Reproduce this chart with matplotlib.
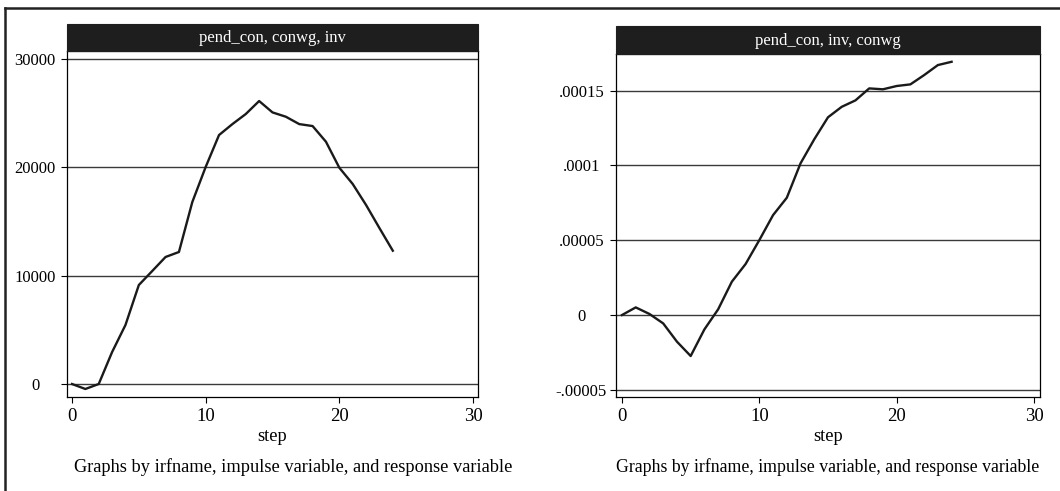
import matplotlib
matplotlib.use("Agg")
import matplotlib.pyplot as plt
from matplotlib.lines import Line2D
from matplotlib.patches import Rectangle

plt.rcParams['font.family'] = ['Liberation Serif', 'DejaVu Serif']

steps = list(range(25))
left_title = "pend_con, conwg, inv"
left_vals = [0, -460, 0, 2950, 5450, 9140, 10430, 11730, 12190, 16800, 20040,
             22990, 24000, 24930, 26130, 25080, 24680, 24000, 23820, 22370,
             19970, 18470, 16530, 14400, 12310]
left_yticks = [0, 10000, 20000, 30000]
left_yticklabels = ["0", "10000", "20000", "30000"]

right_title = "pend_con, inv, conwg"
right_vals = [0, 5.1e-6, 0.7e-6, -5.6e-6, -1.78e-5, -2.74e-5, -9.6e-6, 3.8e-6,
              2.23e-5, 3.41e-5, 5.01e-5, 6.68e-5, 7.84e-5, 1.014e-4, 1.175e-4,
              1.322e-4, 1.392e-4, 1.435e-4, 1.515e-4, 1.509e-4, 1.531e-4,
              1.542e-4, 1.604e-4, 1.671e-4, 1.693e-4]
right_yticks = [-0.00005, 0, 0.00005, 0.0001, 0.00015]
right_yticklabels = ["-.00005", "0", ".00005", ".0001", ".00015"]

xticks = [0, 10, 20, 30]
xlabel = "step"
note = "Graphs by irfname, impulse variable, and response variable"

W, H = 1060, 491
fig = plt.figure(figsize=(W / 100, H / 100), dpi=100)


def fx(px):
    return px / W


def fy(py):
    return 1 - py / H


def panel(x0, x1, ybar, ytop, ybot, title, vals, yticks, yticklabels, xlim, ylim,
          ypad, note_x, note_size):
    ax = fig.add_axes([fx(x0), fy(ybot), fx(x1) - fx(x0), fy(ytop) - fy(ybot)])
    ax.plot(steps, vals, color='#1a1a1a', lw=1.7, zorder=3)
    ax.set_xlim(*xlim)
    ax.set_ylim(*ylim)
    ax.set_xticks(xticks)
    ax.set_xticklabels([str(t) for t in xticks], fontsize=13.5)
    ax.set_yticks(yticks)
    ax.set_yticklabels(yticklabels, fontsize=12, ha='center')
    for t in yticks:
        ax.axhline(t, color='#3a3a3a', lw=1.0, zorder=1)
    ax.tick_params(axis='y', direction='out', length=4, width=0.8, pad=ypad)
    ax.tick_params(axis='x', direction='out', length=4, width=0.8, pad=4)
    for s in ax.spines.values():
        s.set_color('black')
        s.set_linewidth(0.9)
    ax.set_xlabel(xlabel, fontsize=13.2, labelpad=2)
    # title bar
    bar = Rectangle((fx(x0), fy(ytop)), fx(x1) - fx(x0), fy(ybar) - fy(ytop),
                    transform=fig.transFigure, facecolor='#1e1e1e',
                    edgecolor='#1e1e1e', lw=0.8)
    fig.add_artist(bar)
    fig.text((fx(x0) + fx(x1)) / 2, (fy(ybar) + fy(ytop)) / 2 - 0.002, title,
             color='white', fontsize=12, ha='center', va='center')
    fig.text(fx(note_x), fy(467), note, fontsize=note_size,
             ha='center', va='center')
    return ax


panel(67, 478, 24, 51, 397, left_title, left_vals, left_yticks, left_yticklabels,
      (-0.374, 30.374), (-1200, 30750), 19, 293, 13.2)
panel(616, 1040, 26, 54, 397, right_title, right_vals, right_yticks, right_yticklabels,
      (-0.437, 30.437), (-5.48e-5, 1.745e-4), 21, 828, 12.8)

# outer frame (cropped)
fig.add_artist(Line2D([fx(4.5), 1], [fy(8), fy(8)], transform=fig.transFigure,
                      color='#222222', lw=1.8))
fig.add_artist(Line2D([fx(4.5), fx(4.5)], [fy(8), 0], transform=fig.transFigure,
                      color='#222222', lw=1.8))

fig.savefig("out.png", dpi=100)
